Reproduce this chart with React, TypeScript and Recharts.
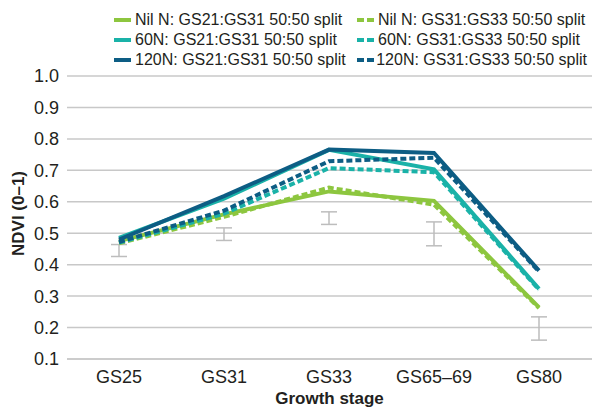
import React from "react";
import {
  ComposedChart,
  Line,
  XAxis,
  YAxis,
  CartesianGrid,
  Legend,
  ErrorBar,
} from "recharts";

const stages = ["GS25", "GS31", "GS33", "GS65–69", "GS80"];

const nilEarly = [0.475, 0.56, 0.633, 0.603, 0.264];
const n60Early = [0.485, 0.61, 0.765, 0.703, 0.323];
const n120Early = [0.48, 0.618, 0.766, 0.755, 0.381];
const nilLate = [0.468, 0.552, 0.645, 0.591, 0.262];
const n60Late = [0.47, 0.562, 0.707, 0.694, 0.32];
const n120Late = [0.472, 0.572, 0.729, 0.74, 0.378];

// error bars (LSD) shown below the lines
const lsdMid = [0.445, 0.497, 0.548, 0.498, 0.197];
const lsdErr = [0.019, 0.02, 0.02, 0.038, 0.037];

const yTicks = [0.1, 0.2, 0.3, 0.4, 0.5, 0.6, 0.7, 0.8, 0.9, 1.0];

const GREEN = "#8dc63f";
const TEAL = "#1ab2a8";
const BLUE = "#0d5d84";

const series = [
  { key: "nilEarly", name: "Nil N: GS21:GS31 50:50 split", color: GREEN, dashed: false },
  { key: "nilLate", name: "Nil N: GS31:GS33 50:50 split", color: GREEN, dashed: true },
  { key: "n60Early", name: "60N: GS21:GS31 50:50 split", color: TEAL, dashed: false },
  { key: "n60Late", name: "60N: GS31:GS33 50:50 split", color: TEAL, dashed: true },
  { key: "n120Early", name: "120N: GS21:GS31 50:50 split", color: BLUE, dashed: false },
  { key: "n120Late", name: "120N: GS31:GS33 50:50 split", color: BLUE, dashed: true },
];

const data = stages.map((s, i) => ({
  stage: s,
  nilEarly: nilEarly[i],
  n60Early: n60Early[i],
  n120Early: n120Early[i],
  nilLate: nilLate[i],
  n60Late: n60Late[i],
  n120Late: n120Late[i],
  lsd: lsdMid[i],
  lsdErr: lsdErr[i],
}));

const font = "'Liberation Sans', Arial, Helvetica, sans-serif";

const renderLegend = () => (
  <div
    style={{
      display: "grid",
      gridTemplateColumns: "243px 230px",
      rowGap: 0,
      fontFamily: font,
      fontSize: 16,
      lineHeight: "20px",
      color: "#231f20",
    }}
  >
    {series.map((s) => (
      <div key={s.key} style={{ display: "flex", alignItems: "center", whiteSpace: "nowrap" }}>
        <svg width={20} height={20} style={{ marginRight: 1 }}>
          <line
            x1={0}
            x2={17}
            y1={10}
            y2={10}
            stroke={s.color}
            strokeWidth={4}
            strokeDasharray={s.dashed ? "7 3" : undefined}
          />
        </svg>
        <span>{s.name}</span>
      </div>
    ))}
  </div>
);

const yLabel = (props: any) => {
  const vb = props.viewBox;
  const cy = vb.y + vb.height / 2 - 4;
  return (
    <text
      x={18}
      y={cy}
      transform={`rotate(-90, 18, ${cy})`}
      textAnchor="middle"
      dominantBaseline="central"
      fontFamily={font}
      fontSize={17}
      fontWeight="bold"
      fill="#231f20"
    >
      NDVI (0–1)
    </text>
  );
};

const xLabel = (props: any) => {
  const vb = props.viewBox;
  return (
    <text
      x={vb.x + vb.width / 2}
      y={404}
      textAnchor="middle"
      fontFamily={font}
      fontSize={17}
      fontWeight="bold"
      fill="#231f20"
    >
      Growth stage
    </text>
  );
};

const App = () => {
  const solids = series.filter((s) => !s.dashed);
  const dashes = series.filter((s) => s.dashed);
  return (
    <div style={{ position: "absolute", left: 0, top: 0, background: "#fff" }}>
      <ComposedChart
        width={593}
        height={407}
        data={data}
        margin={{ top: 76, right: 1, left: 0, bottom: 0 }}
      >
        <CartesianGrid vertical={false} stroke="#c8c8c8" strokeWidth={1.5} />
        <XAxis
          dataKey="stage"
          height={48}
          padding={{ left: 52, right: 53 }}
          tickLine={false}
          axisLine={{ stroke: "#c8c8c8", strokeWidth: 1.5 }}
          tickMargin={5}
          tick={{ fontFamily: font, fontSize: 18, fill: "#231f20" }}
          label={xLabel}
        />
        <YAxis
          width={67}
          domain={[0.1, 1.0]}
          ticks={yTicks}
          interval={0}
          tickFormatter={(v: number) => v.toFixed(1)}
          axisLine={false}
          tickLine={false}
          tick={{ fontFamily: font, fontSize: 18, fill: "#231f20" }}
          label={yLabel}
        />
        <Legend
          layout="vertical"
          align="center"
          verticalAlign="middle"
          content={renderLegend}
          wrapperStyle={{ position: "absolute", top: 10, left: 114, width: 480 }}
        />
        <Line
          dataKey="lsd"
          stroke="none"
          dot={false}
          activeDot={false}
          legendType="none"
          isAnimationActive={false}
        >
          <ErrorBar dataKey="lsdErr" width={8} stroke="#bdbdbd" strokeWidth={1.5} direction="y" />
        </Line>
        {solids.map((s) => (
          <Line
            key={s.key}
            dataKey={s.key}
            name={s.name}
            type="linear"
            stroke={s.color}
            strokeWidth={4}
            dot={false}
            activeDot={false}
            isAnimationActive={false}
          />
        ))}
        {dashes.map((s) => (
          <Line
            key={s.key}
            dataKey={s.key}
            name={s.name}
            type="linear"
            stroke={s.color}
            strokeWidth={4}
            strokeDasharray="6 3"
            dot={false}
            activeDot={false}
            isAnimationActive={false}
          />
        ))}
      </ComposedChart>
    </div>
  );
};

export default App;
